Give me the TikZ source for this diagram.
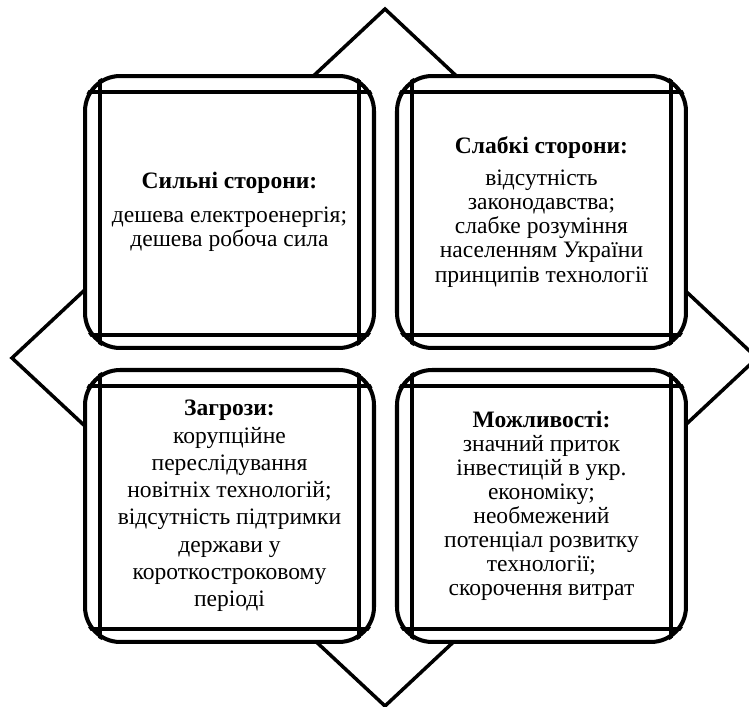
\documentclass[tikz,border=0pt]{standalone}
\usepackage{fontspec}
\setmainfont{Liberation Serif}
\usetikzlibrary{positioning}

\begin{document}
\begin{tikzpicture}[x = 0.02cm, y = -0.02cm,
                    swotbox/.style = {draw, line width = 2.3pt, fill = white,
                                      rounded corners = 0.7cm,
                                      minimum width = 5.78cm, minimum height = 5.44cm,
                                      align = center, inner sep = 0pt,
                                      font = \fontsize{13.4}{13.7}\selectfont},
                    frame/.style = {line width = 2pt},
                    rhomb/.style = {line width = 2pt, line join = miter}]
  \useasboundingbox (0,0) rectangle (749,706);

  \coordinate (W) at (12,358);
  \coordinate (N) at (385,9);
  \coordinate (E) at (757,358);
  \coordinate (S) at (385,706);
  \draw [rhomb] (W) -- (N) -- (E) -- (S) -- cycle;

  \node [swotbox] (strong) at (229.5,212)
    {\textbf{Сильні сторони:}\\[5.6pt] дешева електроенергія;\\ дешева робоча сила};
  \node [swotbox, right = 0.38cm of strong] (weak)
    {\textbf{Слабкі сторони:}\\[4.5pt] відсутність\\ законодавства;\\ слабке розуміння\\
     населенням України\\ принципів технології};
  \node [swotbox, below = 0.36cm of strong,
         font = \fontsize{13.4}{15.5}\selectfont] (threat)
    {\textbf{Загрози:}\\ корупційне\\ переслідування\\ новітніх технологій;\\
     відсутність підтримки\\ держави у\\ короткостроковому\\ періоді};
  \node [swotbox, below = 0.36cm of weak] (chance)
    {\textbf{Можливості:}\\ значний приток\\ інвестицій в укр.\\ економіку;\\
     необмежений\\ потенціал розвитку\\ технології;\\ скорочення витрат};

  % inner frame of each box, cut off by its rounded border
  \foreach \n in {strong, weak, threat, chance} {
    \begin{scope}
      \clip [rounded corners = 0.7cm] (\n.north west) rectangle (\n.south east);
      \draw [frame] ([xshift = 0.34cm]\n.north west) -- ([xshift = 0.34cm]\n.south west);
      \draw [frame] ([xshift = -0.34cm]\n.north east) -- ([xshift = -0.34cm]\n.south east);
      \draw [frame] ([yshift = -0.36cm]\n.north west) -- ([yshift = -0.36cm]\n.north east);
      \draw [frame] ([yshift = 0.3cm]\n.south west) -- ([yshift = 0.3cm]\n.south east);
    \end{scope}
  }
\end{tikzpicture}
\end{document}
